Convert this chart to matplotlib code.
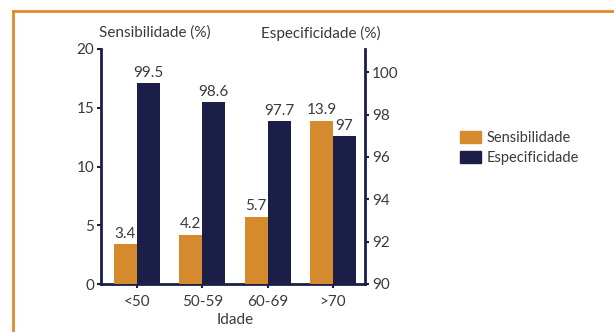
import numpy as np
import matplotlib.pyplot as plt
from matplotlib.lines import Line2D
from matplotlib.patches import Patch

ages = ['<50', '50-59', '60-69', '>70']
sens = [3.4, 4.2, 5.7, 13.9]
spec = [99.5, 98.6, 97.7, 97]
sens_lbl = ['3.4', '4.2', '5.7', '13.9']
spec_lbl = ['99.5', '98.6', '97.7', '97']

orange = '#D68A2E'
navy = '#1B1F47'
txt = '#3a3a3a'
plt.rcParams['font.family'] = ['Lato', 'DejaVu Sans']

fig = plt.figure(figsize=(6.14, 3.32), dpi=100)
ax = fig.add_axes([101 / 614, 1 - 284 / 332, 264 / 614, 235 / 332])
ax2 = ax.twinx()

x = np.arange(len(ages))
w = 0.35
ax.bar(x - w / 2, sens, w, color=orange, zorder=3)
ax2.bar(x + w / 2, spec, w, color=navy, bottom=0)

for i in range(len(ages)):
    ax.text(x[i] - w / 2, sens[i] + 0.3, sens_lbl[i], ha='center', va='bottom',
            fontsize=11, color=txt)
    ax2.text(x[i] + w / 2, spec[i] + 0.15, spec_lbl[i], ha='center', va='bottom',
             fontsize=11, color=txt)

ax.set_xlim(-0.55, 3.49)
ax.set_ylim(0, 20)
ax2.set_ylim(90, 101.1)
ax.set_yticks([0, 5, 10, 15, 20])
ax2.set_yticks([90, 92, 94, 96, 98, 100])
ax.set_xticks(x)
ax.set_xticklabels(ages)

for a in (ax, ax2):
    a.patch.set_visible(False)
    a.spines['top'].set_visible(False)
    for s in ('left', 'right', 'bottom'):
        a.spines[s].set_color(navy)
        a.spines[s].set_linewidth(2)
    a.tick_params(colors=navy, labelcolor=txt, labelsize=11, width=1.5,
                  length=3, pad=2)
ax.spines['right'].set_visible(False)
ax2.spines['left'].set_visible(False)
ax2.spines['bottom'].set_visible(False)
ax.tick_params(axis='x', pad=5)

fig.text(155 / 614, 1 - 33 / 332, 'Sensibilidade (%)', ha='center', va='center',
         fontsize=11, color=txt)
fig.text(321 / 614, 1 - 33 / 332, 'Especificidade (%)', ha='center', va='center',
         fontsize=11, color=txt)
fig.text(235 / 614, 1 - 320 / 332, 'Idade', ha='center', va='center',
         fontsize=11, color=txt)

handles = [Patch(color=orange, label='Sensibilidade'),
           Patch(color=navy, label='Especificidade')]
fig.legend(handles=handles, loc='center left', bbox_to_anchor=(447 / 614, 1 - 148 / 332),
           frameon=False, fontsize=10.5, handlelength=1.4, handleheight=0.9,
           handletextpad=0.4, labelspacing=0.45, labelcolor=txt)

# orange frame
fig.add_artist(Line2D([13 / 614, 13 / 614], [0, 1 - 11 / 332], transform=fig.transFigure,
                      color='#E08A2E', lw=2))
fig.add_artist(Line2D([13 / 614, 1], [1 - 11 / 332, 1 - 11 / 332], transform=fig.transFigure,
                      color='#E08A2E', lw=2))

fig.savefig('out.png', dpi=100)
